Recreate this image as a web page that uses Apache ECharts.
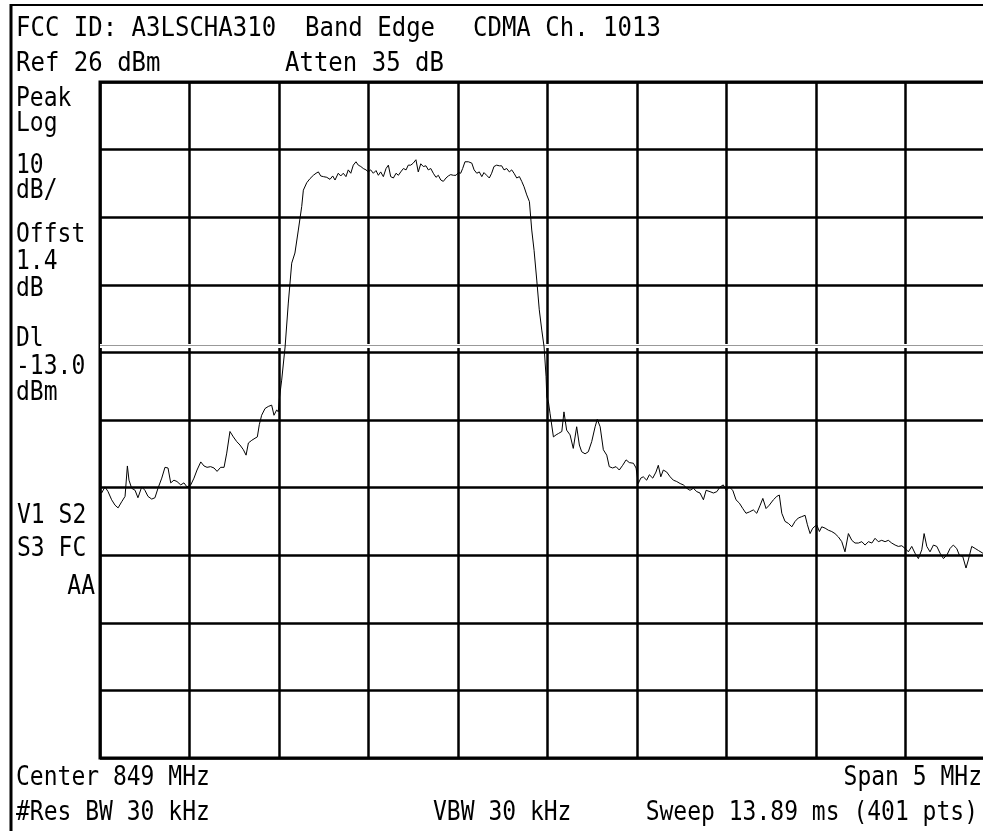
<!DOCTYPE html>
<html>
<head>
<meta charset="utf-8">
<script src="https://cdn.jsdelivr.net/npm/echarts@6/dist/echarts.min.js"></script>
<style>
html,body{margin:0;padding:0;background:#fff;overflow:hidden;}
#chart{width:1000px;height:831px;}
</style>
</head>
<body>
<div id="chart"></div>
<script>
// Analyzer settings
const refLevelDbm = 26;
const dbPerDiv = 10;
const centerMHz = 849;
const spanMHz = 5;
const displayLineDbm = -13;

// Header / footer / side annotations
const headerTexts = ["FCC ID: A3LSCHA310", "Band Edge", "CDMA Ch. 1013"];
const settingTexts = ["Ref 26 dBm", "Atten 35 dB"];
const sideTexts = ["Peak", "Log", "10", "dB/", "Offst", "1.4", "dB", "Dl", "-13.0", "dBm"];
const modeTexts = ["V1 S2", "S3 FC", "AA"];
const footerTexts = ["Center 849 MHz", "Span 5 MHz", "#Res BW 30 kHz", "VBW 30 kHz", "Sweep 13.89 ms (401 pts)"];

// Trace: [frequency MHz, level dBm]
const trace = [
[846.500,-34.5],[846.509,-34.8],[846.528,-33.9],[846.545,-34.6],[846.565,-35.8],[846.584,-36.6],[846.601,-37.0],[846.621,-36.1],[846.640,-35.3],[846.653,-30.8],[846.662,-32.9],
[846.677,-34.1],[846.696,-34.4],[846.712,-35.5],[846.733,-33.9],[846.751,-34.4],[846.768,-35.3],[846.789,-35.7],[846.807,-35.5],[846.824,-34.1],[846.845,-32.6],
[846.863,-31.0],[846.880,-31.1],[846.895,-33.3],[846.913,-32.9],[846.930,-33.1],[846.951,-33.6],[846.969,-33.3],[846.986,-33.9],[847.007,-33.6],[847.025,-32.6],
[847.042,-31.4],[847.063,-30.2],[847.081,-30.8],[847.098,-31.0],[847.118,-30.9],[847.137,-31.1],[847.154,-31.6],[847.174,-31.0],[847.193,-31.0],[847.208,-28.9],
[847.226,-25.7],[847.245,-26.5],[847.264,-27.2],[847.282,-27.7],[847.301,-28.4],[847.316,-29.2],[847.329,-27.4],[847.348,-27.0],[847.366,-26.7],[847.379,-26.5],
[847.390,-24.7],[847.403,-23.3],[847.422,-22.3],[847.440,-22.0],[847.459,-21.8],[847.472,-23.3],[847.487,-22.5],[847.496,-22.8],[847.503,-20.6],[847.515,-18.1],
[847.534,-13.2],[847.552,-6.7],[847.571,-0.8],[847.589,0.7],[847.608,4.1],[847.627,7.6],[847.636,10.0],[847.655,11.1],[847.673,11.7],
[847.692,12.2],[847.707,12.5],[847.720,12.7],[847.733,12.1],[847.748,12.0],[847.767,11.9],[847.785,11.6],[847.800,12.1],[847.813,11.5],[847.831,12.5],
[847.845,12.1],[847.859,12.5],[847.874,12.0],[847.887,13.0],[847.901,12.5],[847.915,13.7],[847.930,14.2],[847.943,13.7],[847.957,13.5],[847.971,13.2],
[847.986,13.0],[847.999,12.7],[848.012,13.0],[848.027,12.5],[848.042,12.9],[848.055,12.2],[848.068,12.7],[848.083,12.0],[848.098,13.2],[848.111,13.7],
[848.124,12.0],[848.139,11.8],[848.154,12.5],[848.167,12.2],[848.180,12.7],[848.195,13.2],[848.210,13.0],[848.222,13.7],[848.236,13.7],[848.250,14.0],
[848.265,14.5],[848.278,12.7],[848.292,13.9],[848.306,13.5],[848.321,13.6],[848.334,13.0],[848.348,13.2],[848.362,12.5],[848.377,11.9],[848.390,12.2],
[848.404,11.5],[848.418,11.3],[848.433,11.8],[848.446,12.1],[848.459,12.3],[848.474,12.2],[848.489,12.2],[848.502,12.6],[848.515,12.5],[848.526,13.2],
[848.539,14.2],[848.558,14.2],[848.577,14.0],[848.590,13.0],[848.605,12.5],[848.619,12.7],[848.633,12.0],[848.645,12.6],[848.660,12.2],[848.675,11.8],
[848.688,12.5],[848.701,13.5],[848.716,13.7],[848.731,13.6],[848.744,13.6],[848.757,13.0],[848.772,13.2],[848.787,12.7],[848.800,13.0],[848.813,12.5],
[848.828,11.8],[848.843,12.0],[848.856,11.3],[848.869,10.5],[848.884,9.3],[848.899,8.3],
[848.912,4.1],[848.925,1.1],[848.940,-3.3],[848.954,-7.7],[848.968,-10.7],[848.981,-13.2],[848.992,-17.6],[848.996,-20.6],
[849.005,-21.3],[849.014,-23.0],[849.033,-26.5],[849.048,-26.2],[849.061,-26.0],[849.080,-25.7],[849.092,-22.8],[849.107,-25.5],[849.126,-26.2],[849.144,-28.2],
[849.163,-25.0],[849.178,-27.7],[849.191,-28.7],[849.210,-29.0],[849.228,-28.7],[849.247,-27.2],[849.266,-25.0],[849.278,-23.9],[849.294,-25.0],[849.312,-28.4],
[849.331,-29.2],[849.345,-30.9],[849.364,-31.1],[849.383,-30.9],[849.401,-31.4],[849.420,-30.7],[849.439,-29.9],[849.457,-30.3],[849.480,-30.4],[849.495,-31.1],
[849.507,-33.4],[849.521,-32.6],[849.535,-32.4],[849.554,-32.9],[849.569,-32.1],[849.588,-32.6],[849.606,-31.7],[849.619,-30.7],[849.633,-32.4],[849.647,-31.4],
[849.666,-31.7],[849.685,-32.4],[849.703,-32.9],[849.722,-33.1],[849.741,-33.4],[849.759,-33.6],[849.778,-34.1],[849.796,-34.4],[849.815,-34.1],[849.834,-34.6],
[849.852,-34.8],[849.871,-35.8],[849.886,-34.4],[849.908,-34.6],[849.927,-34.8],[849.946,-34.6],[849.964,-33.9],[849.982,-33.6],[849.998,-34.4],[850.016,-33.9],
[850.035,-34.4],[850.053,-35.8],[850.072,-36.3],[850.091,-37.1],[850.109,-37.8],[850.128,-37.6],[850.150,-37.3],[850.169,-37.8],[850.188,-36.6],[850.203,-35.6],
[850.221,-37.1],[850.239,-36.6],[850.262,-35.8],[850.281,-35.3],[850.295,-35.1],[850.309,-37.8],[850.327,-39.0],[850.346,-39.3],[850.365,-39.8],[850.383,-39.0],
[850.401,-38.5],[850.420,-38.3],[850.439,-38.1],[850.452,-39.5],[850.467,-40.8],[850.482,-40.0],[850.504,-39.5],[850.519,-40.5],[850.532,-39.8],[850.551,-40.0],
[850.569,-40.3],[850.588,-40.5],[850.606,-40.8],[850.625,-41.3],[850.644,-42.0],[850.662,-43.5],[850.681,-40.8],[850.700,-41.8],[850.718,-42.2],[850.737,-42.2],
[850.756,-42.0],[850.774,-42.5],[850.793,-42.0],[850.812,-42.2],[850.830,-41.5],[850.848,-42.0],[850.867,-41.8],[850.886,-42.0],[850.904,-41.8],[850.923,-42.2],
[850.942,-42.5],[850.960,-42.7],[850.979,-42.6],[850.998,-43.0],[851.016,-43.5],[851.035,-42.7],[851.053,-43.7],[851.072,-44.5],[851.091,-43.2],[851.104,-40.8],
[851.119,-42.7],[851.137,-43.5],[851.156,-42.5],[851.175,-42.7],[851.193,-43.7],[851.212,-44.5],[851.231,-44.0],[851.249,-43.0],[851.267,-42.5],[851.286,-43.0],
[851.301,-44.0],[851.320,-44.2],[851.338,-45.9],[851.351,-44.7],[851.370,-42.7],[851.389,-43.0],[851.407,-43.3],[851.432,-43.7],[851.460,-43.5],[851.500,-43.8]
];

const FONT = '23px "DejaVu Sans Mono", "Liberation Mono", monospace';
const FONT_HEAD = '24px "DejaVu Sans Mono", "Liberation Mono", monospace';
function txt(x, y, s, align, font) {
  return {
    type: 'text', x: x, y: y, scaleY: 1.12, silent: true,
    style: { text: s, x: 0, y: 0, font: font || FONT, fill: '#000',
             textAlign: align || 'left', textVerticalAlign: 'middle' }
  };
}

const sideY = [99, 124, 166, 191, 235, 262, 289, 339, 367, 393];
const graphics = [
  // outer frame
  { type: 'line', silent: true, shape: { x1: 11, y1: 4, x2: 11, y2: 831 }, style: { stroke: '#000', lineWidth: 3 } },
  { type: 'line', silent: true, shape: { x1: 10, y1: 5, x2: 1000, y2: 5 }, style: { stroke: '#000', lineWidth: 2 } },
  txt(16, 29, headerTexts[0], 'left', FONT_HEAD),
  txt(305, 29, headerTexts[1], 'left', FONT_HEAD),
  txt(473, 29, headerTexts[2], 'left', FONT_HEAD),
  txt(16, 64, settingTexts[0], 'left', FONT_HEAD),
  txt(285, 64, settingTexts[1], 'left', FONT_HEAD),
  txt(17, 516, modeTexts[0]),
  txt(17, 549, modeTexts[1]),
  txt(95, 587, modeTexts[2], 'right'),
  txt(16, 778, footerTexts[0]),
  txt(982, 778, footerTexts[1], 'right'),
  txt(16, 813, footerTexts[2]),
  txt(433, 813, footerTexts[3]),
  txt(978, 813, footerTexts[4], 'right')
];
sideTexts.forEach(function (s, i) { graphics.push(txt(16, sideY[i], s)); });

const minDbm = refLevelDbm - 10 * dbPerDiv;
const option = {
  backgroundColor: '#fff',
  animation: false,
  grid: { left: 100, top: 82, width: 895, height: 676, show: true,
          borderColor: '#000', borderWidth: 3, backgroundColor: 'transparent' },
  xAxis: {
    type: 'value', min: centerMHz - spanMHz / 2, max: centerMHz + spanMHz / 2, interval: spanMHz / 10,
    axisLine: { show: false }, axisTick: { show: false }, axisLabel: { show: false },
    splitLine: { show: true, lineStyle: { color: '#000', width: 2.5 } }
  },
  yAxis: {
    type: 'value', min: minDbm, max: refLevelDbm, interval: dbPerDiv,
    axisLine: { show: false }, axisTick: { show: false }, axisLabel: { show: false },
    splitLine: { show: true, lineStyle: { color: '#000', width: 2.5 } }
  },
  series: [{
    type: 'line', data: trace, showSymbol: false, symbol: 'none',
    lineStyle: { color: '#000', width: 1 }, z: 5,
    markLine: {
      silent: true, symbol: ['none', 'none'], label: { show: false },
      data: [
        { yAxis: displayLineDbm, lineStyle: { color: '#fff', width: 4, type: 'solid' } },
        { yAxis: displayLineDbm, lineStyle: { color: '#999', width: 1, type: 'solid' } }
      ]
    }
  }],
  graphic: graphics
};

const chart = echarts.init(document.getElementById('chart'), null, { renderer: 'canvas' });
chart.setOption(option);
</script>
</body>
</html>
